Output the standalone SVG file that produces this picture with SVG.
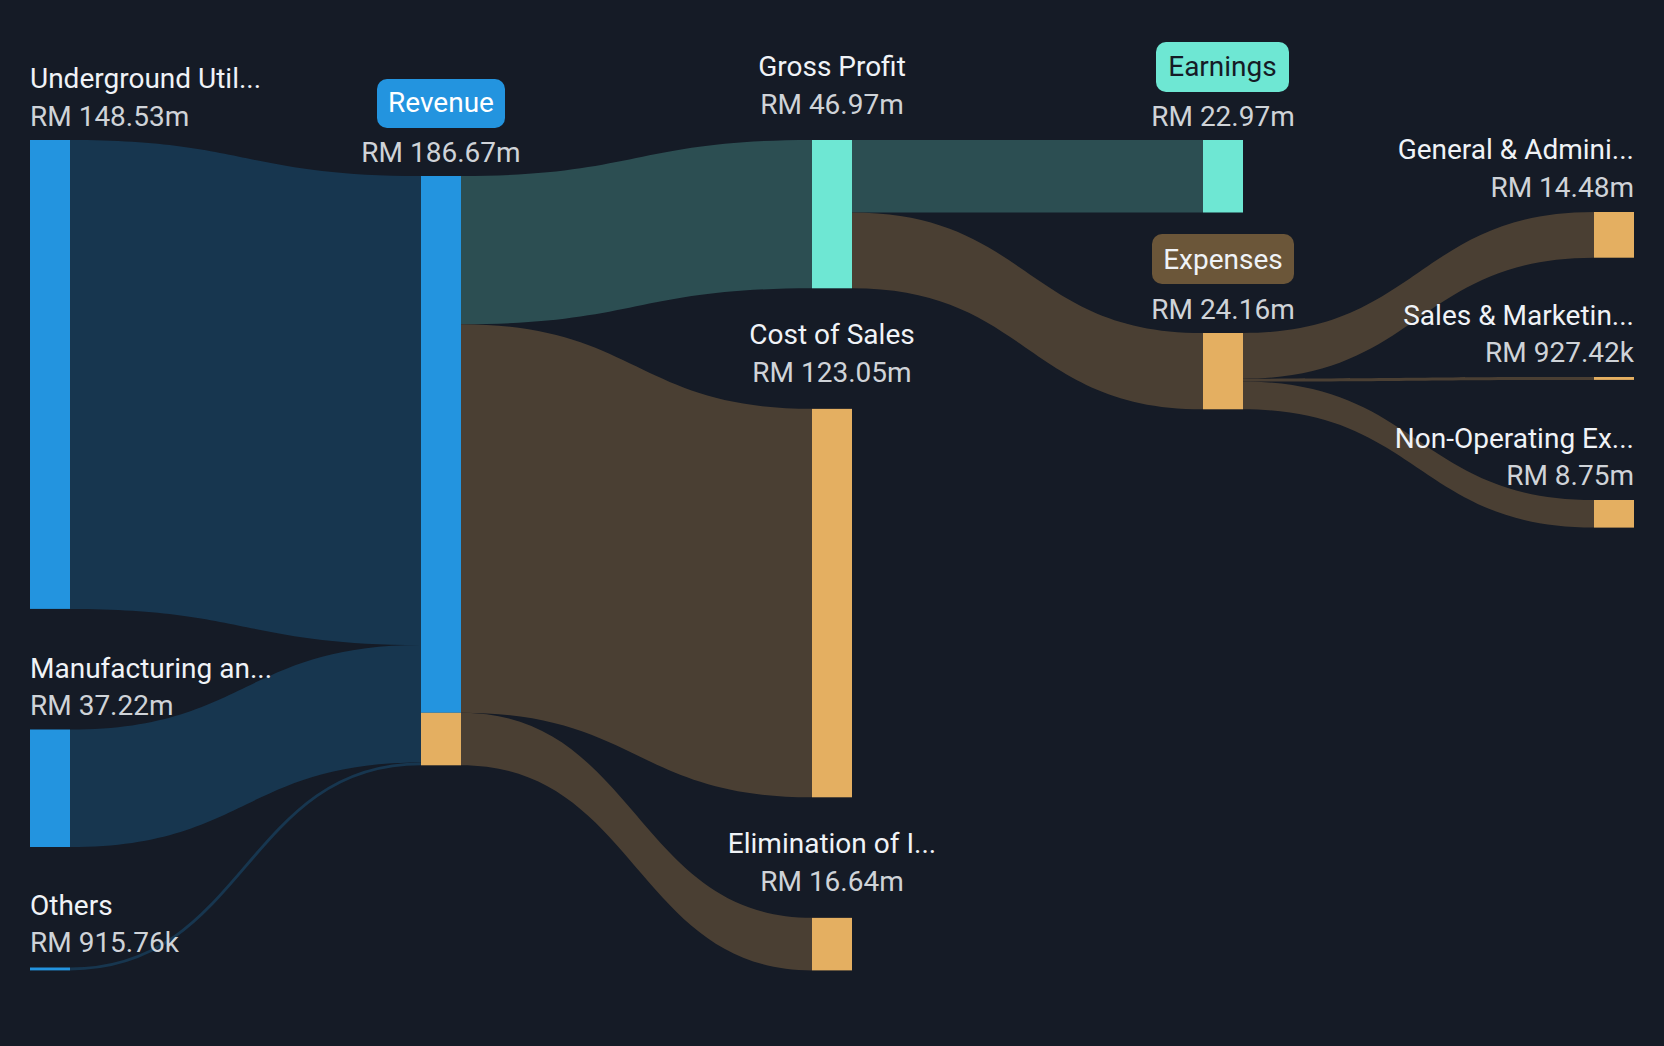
<svg xmlns="http://www.w3.org/2000/svg" width="1664" height="1046" viewBox="0 0 1664 1046">
<style>
.bg{fill:#151b26}
.lb{fill:#17364f}
.lt{fill:#2c4e52}
.lo{fill:#4a3f33}
.nb{fill:#2394df}
.nt{fill:#6ee7d3}
.no{fill:#e4af61}
text{font-family:Roboto,"Liberation Sans",sans-serif;font-size:28px}
.nm{fill:#f0f3f7}
.vl{fill:#cfd3d8}
.s{text-anchor:start}
.m{text-anchor:middle}
.e{text-anchor:end}
</style>
<rect class="bg" x="0" y="0" width="1664" height="1046"/>
<g id="connectors">
<path class="lb" d="M70,140 C245.5,140 245.5,176 421,176 L421,644.9 C245.5,644.9 245.5,608.9 70,608.9 Z"/>
<path class="lb" d="M70,729.5 C245.5,729.5 245.5,644.9 421,644.9 L421,762.4 C245.5,762.4 245.5,847 70,847 Z"/>
<path d="M70,968.95 C245.5,968.95 245.5,763.85 421,763.85" fill="none" stroke="#17364f" stroke-width="2.9"/>
<path class="lt" d="M461,176 C636.5,176 636.5,140 812,140 L812,288.3 C636.5,288.3 636.5,324.3 461,324.3 Z"/>
<path class="lo" d="M461,324.3 C636.5,324.3 636.5,408.85 812,408.85 L812,797.3 C636.5,797.3 636.5,712.8 461,712.8 Z"/>
<path class="lo" d="M461,712.8 C636.5,712.8 636.5,917.85 812,917.85 L812,970.4 C636.5,970.4 636.5,765.3 461,765.3 Z"/>
<path class="lt" d="M852,140 L1203,140 L1203,212.5 L852,212.5 Z"/>
<path class="lo" d="M852,212.5 C1027.5,212.5 1027.5,333 1203,333 L1203,409.3 C1027.5,409.3 1027.5,288.3 852,288.3 Z"/>
<path class="lo" d="M1243,333 C1418.5,333 1418.5,212 1594,212 L1594,257.7 C1418.5,257.7 1418.5,378.7 1243,378.7 Z"/>
<path class="lo" d="M1243,378.7 C1418.5,378.7 1418.5,377 1594,377 L1594,379.9 C1418.5,379.9 1418.5,381.6 1243,381.6 Z"/>
<path class="lo" d="M1243,381.6 C1418.5,381.6 1418.5,500 1594,500 L1594,527.6 C1418.5,527.6 1418.5,409.3 1243,409.3 Z"/>
</g>
<g id="underground">
<rect class="nb" x="30" y="140" width="40" height="468.9"/>
<text class="nm s" x="30" y="88">Underground Util...</text>
<text class="vl s" x="30" y="126">RM 148.53m</text>
</g>
<g id="manufacturing">
<rect class="nb" x="30" y="729.5" width="40" height="117.5"/>
<text class="nm s" x="30" y="678">Manufacturing an...</text>
<text class="vl s" x="30" y="715">RM 37.22m</text>
</g>
<g id="others">
<rect class="nb" x="30" y="967.5" width="40" height="2.9"/>
<text class="nm s" x="30" y="915">Others</text>
<text class="vl s" x="30" y="952">RM 915.76k</text>
</g>
<g id="revenue">
<rect class="nb" x="421" y="176" width="40" height="536.8"/>
<rect class="no" x="421" y="712.8" width="40" height="52.5"/>
<rect class="nb" x="377" y="79" width="128" height="49" rx="10"/>
<text class="m" x="441" y="112" fill="#ffffff">Revenue</text>
<text class="vl m" x="441" y="162">RM 186.67m</text>
</g>
<g id="gross-profit">
<rect class="nt" x="812" y="140" width="40" height="148.3"/>
<text class="nm m" x="832" y="76">Gross Profit</text>
<text class="vl m" x="832" y="113.5">RM 46.97m</text>
</g>
<g id="cost-of-sales">
<rect class="no" x="812" y="408.85" width="40" height="388.45"/>
<text class="nm m" x="832" y="343.5">Cost of Sales</text>
<text class="vl m" x="832" y="381.5">RM 123.05m</text>
</g>
<g id="elimination">
<rect class="no" x="812" y="917.85" width="40" height="52.55"/>
<text class="nm m" x="832" y="852.7">Elimination of I...</text>
<text class="vl m" x="832" y="890.7">RM 16.64m</text>
</g>
<g id="earnings">
<rect class="nt" x="1203" y="140" width="40" height="72.5"/>
<rect class="nt" x="1156" y="42" width="133" height="50" rx="10"/>
<text class="m" x="1222.5" y="76" fill="#151b26">Earnings</text>
<text class="vl m" x="1223" y="126">RM 22.97m</text>
</g>
<g id="expenses">
<rect class="no" x="1203" y="333" width="40" height="76.3"/>
<rect x="1152" y="234" width="142" height="50" rx="10" fill="#6b5639"/>
<text class="nm m" x="1223" y="269">Expenses</text>
<text class="vl m" x="1223" y="318.5">RM 24.16m</text>
</g>
<g id="general-admin">
<rect class="no" x="1594" y="212" width="40" height="45.7"/>
<text class="nm e" x="1634" y="158.5">General &amp; Admini...</text>
<text class="vl e" x="1634" y="197">RM 14.48m</text>
</g>
<g id="sales-marketing">
<rect class="no" x="1594" y="377" width="40" height="2.9"/>
<text class="nm e" x="1634" y="325">Sales &amp; Marketin...</text>
<text class="vl e" x="1634" y="362">RM 927.42k</text>
</g>
<g id="non-operating">
<rect class="no" x="1594" y="500" width="40" height="27.6"/>
<text class="nm e" x="1634" y="448">Non-Operating Ex...</text>
<text class="vl e" x="1634" y="485">RM 8.75m</text>
</g>
</svg>
